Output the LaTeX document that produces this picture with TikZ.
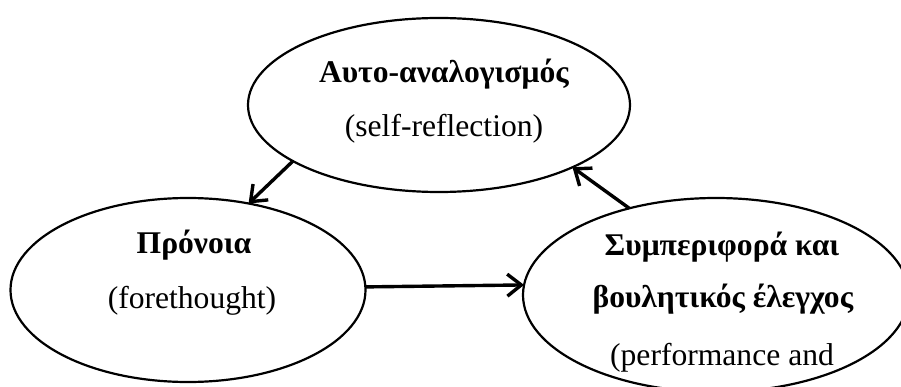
\documentclass[tikz,border=0pt]{standalone}
\usepackage{fontspec}
\setmainfont{Liberation Serif}
\usepackage{tikz}
\usetikzlibrary{shapes,arrows.meta}

\begin{document}
\begin{tikzpicture}[x=1pt,y=-1pt,
    bubble/.style={draw,ellipse,line width=2.2pt,inner sep=0pt,outer sep=0pt},
    txt/.style={anchor=base,inner sep=0pt,font=\fontsize{31.6}{38}\selectfont},
    link/.style={line width=3.4pt,-{Straight Barb[length=14pt,width=22pt]}}]
    \useasboundingbox (0,0) rectangle (901,387);
    \clip (0,0) rectangle (901,387);

    \node[bubble,minimum width=382pt,minimum height=174pt] (refl) at (439,105) {};
    \node[bubble,minimum width=355pt,minimum height=184pt] (fore) at (188,290) {};
    \node[bubble,minimum width=386pt,minimum height=194pt] (perf) at (716,295) {};

    \node[txt] (refl-gr) at (444,83) {\textbf{Αυτο-αναλογισμός}};
    \node[txt] (refl-en) at (444,137) {(self-reflection)};
    \node[txt] (fore-gr) at (194,253) {\textbf{Πρόνοια}};
    \node[txt] (fore-en) at (192,308) {(forethought)};
    \node[txt] (perf-gr1) at (722,255) {\textbf{Συμπεριφορά και}};
    \node[txt] (perf-gr2) at (723,307) {\textbf{βουλητικός έλεγχος}};
    \node[txt] (perf-en) at (722,365) {(performance and};

    \draw[link] (refl.201) -- (fore.55);
    \draw[link] (fore.1) -- (perf.177.6);
    \draw[link] (perf.135) -- (refl.335);
\end{tikzpicture}
\end{document}
